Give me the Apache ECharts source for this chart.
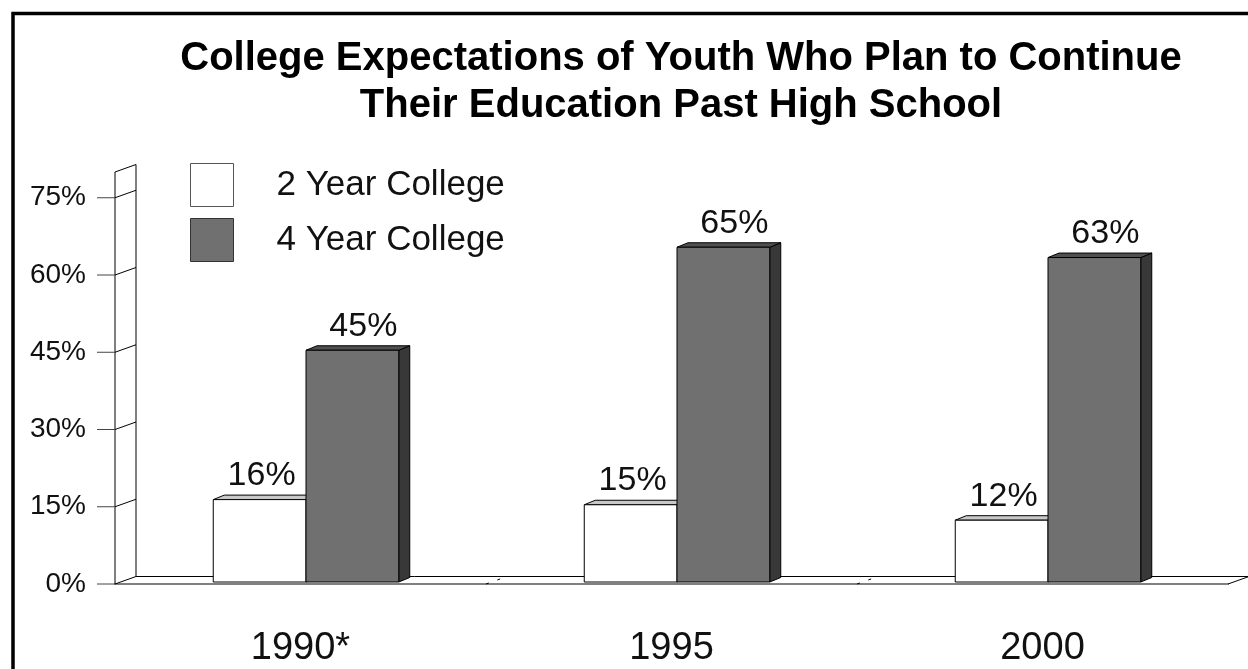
<!DOCTYPE html>
<html lang="en">
<head>
    <meta charset="UTF-8">
    <title>College Expectations</title>
    <script src="https://cdn.jsdelivr.net/npm/echarts@6/dist/echarts.min.js"></script>
</head>
<body style="margin:0">

    <div id="main" style="width: 1248px;height:669px;"></div>

    <script type="text/javascript">

      // chart data
      var years = ['1990*', '1995', '2000']
      var twoYear = [16, 15, 12]
      var fourYear = [45, 65, 63]
      var yTicks = [0, 15, 30, 45, 60, 75]
      var seriesNames = ['2 Year College', '4 Year College']

      var FONT = 'Liberation Sans'

      // faces of the 3d bars: front, top, side
      var faceColors = [
        ['#ffffff', '#c8c8c8', '#b0b0b0'],
        ['#707070', '#505050', '#383838']
      ]
      var labelShift = [2, 11]

      function barRenderer(idx) {
        return function (params, api) {
          var ci = api.value(0), v = api.value(1)
          var base = api.coord([ci, 0])
          var top = api.coord([ci, v])
          var band = api.size([1, 0])[0]
          var w = band / 4
          // bars stand half way back on the floor
          var x0 = base[0] - w + idx * w + 5.5
          var x1 = x0 + w
          var yb = base[1] - 2
          var yt = top[1] - 2
          var dx = 11, dy = -4.5
          var c = faceColors[idx]
          var stroke = { stroke: '#000', lineWidth: 1 }
          return {
            type: 'group',
            children: [
              { type: 'polygon', shape: { points: [[x1, yb], [x1 + dx, yb + dy], [x1 + dx, yt + dy], [x1, yt]] },
                style: Object.assign({ fill: c[2] }, stroke) },
              { type: 'polygon', shape: { points: [[x0, yt], [x0 + dx, yt + dy], [x1 + dx, yt + dy], [x1, yt]] },
                style: Object.assign({ fill: c[1] }, stroke) },
              { type: 'rect', shape: { x: x0, y: yt, width: w, height: yb - yt },
                style: Object.assign({ fill: c[0] }, stroke) },
              { type: 'text', x: (x0 + x1) / 2 + labelShift[idx], y: yt - 7,
                style: { text: v + '%', fontSize: 34, fontFamily: FONT, fill: '#111',
                  align: 'center', verticalAlign: 'bottom' } }
            ]
          }
        }
      }

      // back wall and floor of the 3d box
      function wallRenderer(params, api) {
        var cs = params.coordSys
        var gx = cs.x, gr = cs.x + cs.width
        var dx = 21, dy = -7.5
        var y0 = api.coord([0, 0])[1]
        var ytop = api.coord([0, 80])[1]
        var line = function (a, b, color, extra) {
          return { type: 'line', shape: { x1: a[0], y1: a[1], x2: b[0], y2: b[1] },
            style: Object.assign({ stroke: color || '#000', lineWidth: 1 }, extra || {}) }
        }
        var kids = []
        kids.push(line([gx, y0], [gx, ytop]))
        kids.push(line([gx + dx, y0 + dy], [gx + dx, ytop + dy]))
        kids.push(line([gx, ytop], [gx + dx, ytop + dy]))
        yTicks.forEach(function (t) {
          var y = api.coord([0, t])[1]
          kids.push(line([gx, y], [gx + dx, y + dy]))
          kids.push(line([gx - 18, y], [gx, y], '#444'))
        })
        kids.push(line([gx + dx, y0 + dy], [gr + dx, y0 + dy]))
        kids.push(line([gr, y0], [gr + dx, y0 + dy]))
        // faint category boundaries on the floor
        var band = api.size([1, 0])[0]
        for (var i = 1; i < years.length; i++) {
          var bx = gx + band * i
          kids.push(line([bx, y0], [bx + dx, y0 + dy], '#000', { lineDash: [3, 9] }))
        }
        return { type: 'group', children: kids }
      }

      var myChart = echarts.init(document.getElementById('main'))

      var option = {
        backgroundColor: '#fff',
        animation: false,
        title: {
          text: 'College Expectations of Youth Who Plan to Continue\nTheir Education Past High School',
          left: 676,
          top: 30,
          textAlign: 'center',
          textStyle: { fontFamily: FONT, fontSize: 40, fontWeight: 'bold', color: '#000', lineHeight: 47 }
        },
        legend: {
          orient: 'vertical',
          left: 185,
          top: 158,
          itemWidth: 43,
          itemHeight: 43,
          itemGap: 11,
          icon: 'rect',
          textStyle: { fontFamily: FONT, fontSize: 35, color: '#111', padding: [6, 0, 0, 38] },
          data: [
            { name: seriesNames[0], itemStyle: { color: '#ffffff', borderColor: '#555', borderWidth: 1 } },
            { name: seriesNames[1], itemStyle: { color: '#707070', borderColor: '#333', borderWidth: 1 } }
          ]
        },
        grid: { left: 115, right: 20, top: 172, bottom: 85 },
        xAxis: {
          type: 'category',
          data: years,
          axisLine: { lineStyle: { color: '#808080', width: 2 } },
          axisTick: { alignWithLabel: true, length: 24, lineStyle: { color: '#808080', width: 2 } },
          axisLabel: { fontFamily: FONT, fontSize: 38, color: '#111', margin: 46 }
        },
        yAxis: {
          type: 'value',
          min: 0,
          max: 80,
          interval: 15,
          axisLine: { show: false },
          axisTick: { show: false },
          splitLine: { show: false },
          axisLabel: { fontFamily: FONT, fontSize: 28, color: '#111', margin: 29,
            showMaxLabel: false, formatter: '{value}%' }
        },
        series: [
          {
            name: 'wall',
            type: 'custom',
            renderItem: wallRenderer,
            data: [[0, 0]],
            clip: false,
            silent: true,
            z: 1
          },
          {
            name: seriesNames[0],
            type: 'custom',
            renderItem: barRenderer(0),
            itemStyle: { color: '#ffffff' },
            data: years.map(function (y, i) { return [i, twoYear[i]] }),
            clip: false,
            z: 2
          },
          {
            name: seriesNames[1],
            type: 'custom',
            renderItem: barRenderer(1),
            itemStyle: { color: '#707070' },
            data: years.map(function (y, i) { return [i, fourYear[i]] }),
            clip: false,
            z: 3
          }
        ],
        graphic: [
          {
            type: 'rect',
            shape: { x: 13, y: 13.5, width: 1300, height: 700 },
            style: { fill: null, stroke: '#000', lineWidth: 3.5 },
            z: 100
          }
        ]
      }

      myChart.setOption(option)

    </script>
  </body>
</html>
